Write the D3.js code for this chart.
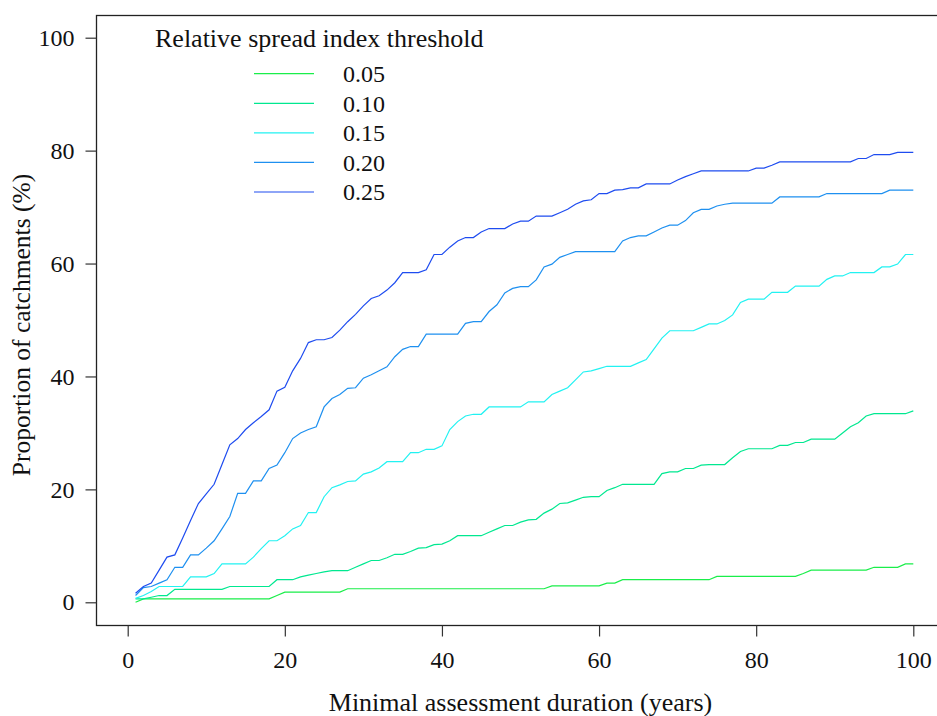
<!DOCTYPE html>
<html>
<head>
<meta charset="utf-8">
<script src="https://cdn.jsdelivr.net/npm/d3@7"></script>
<style>
  body { margin: 0; background: #fff; }
  text { font-family: "Liberation Serif", "Times New Roman", serif; fill: #111; }
</style>
</head>
<body>
<script>
// minimal assessment duration, years 1..100
var years = d3.range(1, 101);

var thresholds = ["0.05", "0.10", "0.15", "0.20", "0.25"];
var colors = ["#1aee4a", "#00e890", "#22f2f2", "#1e90f0", "#1e4cf0"];

var yTicks = [0, 20, 40, 60, 80, 100];
var xTicks = [0, 20, 40, 60, 80, 100];

// proportion of catchments (%) for each threshold, year 1 to 100
var s005 = [
  0, 0.6, 0.6, 0.6, 0.6, 0.6, 0.6, 0.6, 0.6, 0.6,
  0.6, 0.6, 0.6, 0.6, 0.6, 0.6, 0.6, 0.6, 1.2, 1.8,
  1.8, 1.8, 1.8, 1.8, 1.8, 1.8, 1.8, 2.4, 2.4, 2.4,
  2.4, 2.4, 2.4, 2.4, 2.4, 2.4, 2.4, 2.4, 2.4, 2.4,
  2.4, 2.4, 2.4, 2.4, 2.4, 2.4, 2.4, 2.4, 2.4, 2.4,
  2.4, 2.4, 2.4, 2.9, 2.9, 2.9, 2.9, 2.9, 2.9, 2.9,
  3.4, 3.4, 4.0, 4.0, 4.0, 4.0, 4.0, 4.0, 4.0, 4.0,
  4.0, 4.0, 4.0, 4.0, 4.6, 4.6, 4.6, 4.6, 4.6, 4.6,
  4.6, 4.6, 4.6, 4.6, 4.6, 5.1, 5.7, 5.7, 5.7, 5.7,
  5.7, 5.7, 5.7, 5.7, 6.2, 6.2, 6.2, 6.2, 6.8, 6.8
];
var s010 = [
  0.6, 0.6, 0.9, 1.2, 1.2, 2.3, 2.3, 2.3, 2.3, 2.3,
  2.3, 2.3, 2.8, 2.8, 2.8, 2.8, 2.8, 2.8, 4.0, 4.0,
  4.0, 4.5, 4.8, 5.1, 5.4, 5.6, 5.6, 5.6, 6.2, 6.8,
  7.4, 7.4, 7.9, 8.5, 8.5, 9.0, 9.6, 9.7, 10.2, 10.3,
  10.9, 11.8, 11.8, 11.8, 11.8, 12.4, 13.0, 13.6, 13.6, 14.2,
  14.6, 14.7, 15.8, 16.5, 17.5, 17.6, 18.1, 18.6, 18.7, 18.7,
  19.8, 20.3, 20.9, 20.9, 20.9, 20.9, 20.9, 22.8, 23.1, 23.1,
  23.7, 23.7, 24.3, 24.4, 24.4, 24.4, 25.6, 26.7, 27.2, 27.2,
  27.2, 27.2, 27.8, 27.8, 28.3, 28.3, 28.9, 28.9, 28.9, 28.9,
  30.0, 31.1, 31.8, 33.0, 33.4, 33.4, 33.4, 33.4, 33.4, 33.9
];
var s015 = [
  0.7, 1.2, 1.9, 2.8, 2.8, 2.8, 2.8, 4.5, 4.5, 4.5,
  5.1, 6.8, 6.8, 6.8, 6.8, 8.0, 9.5, 10.9, 10.9, 11.8,
  13.0, 13.6, 15.9, 15.9, 18.7, 20.3, 20.8, 21.4, 21.5, 22.7,
  23.1, 23.8, 24.9, 24.9, 24.9, 26.5, 26.5, 27.1, 27.1, 27.7,
  30.6, 32.0, 33.0, 33.3, 33.3, 34.6, 34.6, 34.6, 34.6, 34.6,
  35.5, 35.5, 35.5, 36.8, 37.4, 38.0, 39.4, 40.8, 41.0, 41.4,
  41.8, 41.8, 41.8, 41.8, 42.4, 43.0, 44.9, 46.8, 48.1, 48.1,
  48.1, 48.1, 48.7, 49.3, 49.3, 49.9, 50.9, 53.1, 53.7, 53.7,
  53.7, 54.9, 54.9, 54.9, 56.0, 56.0, 56.0, 56.0, 57.2, 57.8,
  57.8, 58.4, 58.4, 58.4, 58.4, 59.4, 59.4, 59.9, 61.6, 61.6
];
var s020 = [
  1.2, 2.6, 2.8, 3.4, 4.0, 6.2, 6.2, 8.4, 8.4, 9.6,
  10.9, 13.0, 15.2, 19.3, 19.3, 21.5, 21.5, 23.7, 24.3, 26.5,
  29.0, 30.0, 30.6, 31.1, 34.6, 36.1, 36.8, 37.9, 38.0, 39.7,
  40.3, 41.0, 41.7, 43.5, 44.8, 45.3, 45.3, 47.5, 47.5, 47.5,
  47.5, 47.5, 49.4, 49.7, 49.7, 51.5, 52.7, 54.8, 55.6, 55.9,
  55.9, 57.1, 59.4, 59.9, 61.1, 61.6, 62.1, 62.1, 62.1, 62.1,
  62.1, 62.1, 64.0, 64.6, 64.9, 64.9, 65.6, 66.3, 66.8, 66.8,
  67.6, 69.0, 69.6, 69.6, 70.2, 70.5, 70.7, 70.7, 70.7, 70.7,
  70.7, 70.7, 71.8, 71.8, 71.8, 71.8, 71.8, 71.8, 72.4, 72.4,
  72.4, 72.4, 72.4, 72.4, 72.4, 72.4, 73.0, 73.0, 73.0, 73.0
];
var s025 = [
  1.6, 2.8, 3.4, 5.7, 8.0, 8.4, 11.4, 14.5, 17.5, 19.2,
  20.9, 24.4, 27.9, 29.0, 30.6, 31.8, 32.9, 34.1, 37.4, 38.1,
  41.0, 43.2, 46.0, 46.5, 46.5, 46.9, 48.2, 49.7, 51.0, 52.5,
  53.8, 54.3, 55.3, 56.6, 58.4, 58.4, 58.4, 58.9, 61.6, 61.6,
  62.9, 64.0, 64.6, 64.6, 65.6, 66.2, 66.2, 66.2, 67.0, 67.5,
  67.5, 68.4, 68.4, 68.4, 69.0, 69.6, 70.5, 71.1, 71.3, 72.4,
  72.4, 73.0, 73.1, 73.4, 73.4, 74.1, 74.1, 74.1, 74.1, 74.8,
  75.4, 75.9, 76.4, 76.4, 76.4, 76.4, 76.4, 76.4, 76.4, 76.9,
  76.9, 77.4, 78.0, 78.0, 78.0, 78.0, 78.0, 78.0, 78.0, 78.0,
  78.0, 78.0, 78.6, 78.6, 79.3, 79.3, 79.3, 79.7, 79.7, 79.7
];
var series = [s005, s010, s015, s020, s025];

var width = 937, height = 716;
var boxLeft = 96, boxTop = 15, boxBottom = 625;

var svg = d3.select("body").append("svg")
    .attr("width", width)
    .attr("height", height);

var x = d3.scaleLinear().domain([0, 100]).range([127.7, 913.3]);
var y = d3.scaleLinear().domain([0, 100]).range([602.3, 37.7]);

// frame (right side falls off the page)
svg.append("rect")
    .attr("x", boxLeft + 0.5)
    .attr("y", boxTop + 0.5)
    .attr("width", 860)
    .attr("height", boxBottom - boxTop)
    .attr("fill", "none")
    .attr("stroke", "#222")
    .attr("stroke-width", 1.3);

// y axis
var yAxis = d3.axisLeft(y).tickValues(yTicks).tickSize(11).tickPadding(11);
var gy = svg.append("g")
    .attr("transform", "translate(" + (boxLeft + 0.5) + ",0)")
    .call(yAxis);
gy.select(".domain").remove();
gy.selectAll(".tick line").attr("stroke", "#333").attr("stroke-width", 1.2);
gy.selectAll(".tick text")
    .style("font-family", "'Liberation Serif', serif")
    .style("font-size", "24px")
    .attr("fill", "#111");

// x axis
var xAxis = d3.axisBottom(x).tickValues(xTicks).tickSize(11).tickPadding(14);
var gx = svg.append("g")
    .attr("transform", "translate(0," + (boxBottom + 0.5) + ")")
    .call(xAxis);
gx.select(".domain").remove();
gx.selectAll(".tick line").attr("stroke", "#333").attr("stroke-width", 1.2);
gx.selectAll(".tick text")
    .style("font-family", "'Liberation Serif', serif")
    .style("font-size", "24px")
    .attr("fill", "#111");

// axis titles
svg.append("text")
    .attr("x", x(50))
    .attr("y", 711)
    .attr("text-anchor", "middle")
    .style("font-size", "26px")
    .text("Minimal assessment duration (years)");

svg.append("text")
    .attr("transform", "translate(30," + 325 + ") rotate(-90)")
    .attr("text-anchor", "middle")
    .style("font-size", "25.5px")
    .text("Proportion of catchments (%)");

// series lines
var line = d3.line()
    .x(function(d, i) { return x(years[i]); })
    .y(function(d) { return y(d); });

series.forEach(function(s, k) {
  svg.append("path")
      .attr("d", line(s))
      .attr("fill", "none")
      .attr("stroke", colors[k])
      .attr("stroke-width", 1.2);
});

// legend
svg.append("text")
    .attr("x", 155)
    .attr("y", 47)
    .style("font-size", "26px")
    .text("Relative spread index threshold");

var legendY = d3.scalePoint().domain(thresholds).range([73.7, 192]);

thresholds.forEach(function(t, k) {
  var ly = legendY(t);
  svg.append("line")
      .attr("x1", 254).attr("x2", 314)
      .attr("y1", ly).attr("y2", ly)
      .attr("stroke", colors[k])
      .attr("stroke-width", 1.2);
  svg.append("text")
      .attr("x", 343)
      .attr("y", ly)
      .attr("dy", "0.35em")
      .style("font-size", "24px")
      .text(t);
});
</script>
</body>
</html>
